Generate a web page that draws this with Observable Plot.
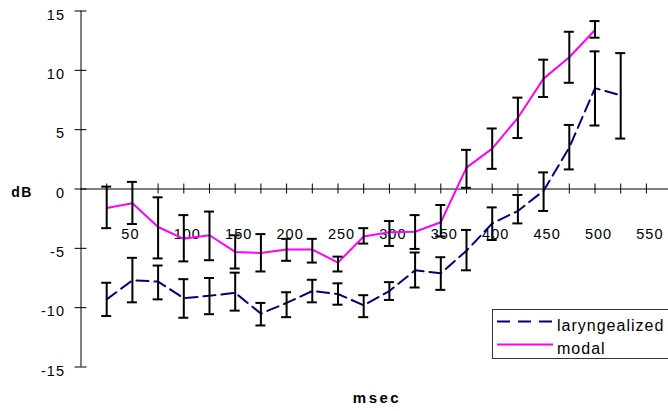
<!DOCTYPE html>
<html><head><meta charset="utf-8">
<script src="https://cdn.jsdelivr.net/npm/d3@7"></script>
<script src="https://cdn.jsdelivr.net/npm/@observablehq/plot@0.6"></script>
<style>
html,body{margin:0;padding:0;background:#fff;overflow:hidden}
#wrap{position:relative;width:668px;height:411px;overflow:hidden;background:#fff}
#overlay{position:absolute;left:0;top:0;pointer-events:none}
</style></head><body><div id="wrap"></div>
<script>
// ---- data ----
const msecModal = [25,50,75,100,125,150,175,200,225,250,275,300,325,350,375,400,425,450,475,500];
const modal   = [-1.6,-1.2,-3.2,-4.2,-3.9,-5.3,-5.4,-5.1,-5.1,-6.2,-4.0,-3.65,-3.6,-2.8,1.8,3.4,6.0,9.3,11.1,13.4];
const modalHi = [0.2,0.6,-0.7,-2.2,-1.9,-3.9,-3.8,-4.2,-4.2,-5.7,-3.3,-2.7,-2.2,-1.35,3.3,5.1,7.7,10.9,13.25,14.15];
const modalLo = [-3.3,-2.95,-5.85,-6.1,-6.0,-6.7,-6.95,-6.05,-6.2,-6.95,-4.6,-4.8,-5.05,-4.0,0.1,1.7,4.3,7.75,8.95,12.75];

const msecLaryng = [25,50,75,100,125,150,175,200,225,250,275,300,325,350,375,400,425,450,475,500,525];
const laryng   = [-9.3,-7.7,-7.8,-9.2,-9.0,-8.75,-10.5,-9.6,-8.6,-8.85,-9.8,-8.6,-6.85,-7.1,-5.2,-2.9,-1.85,-0.15,3.5,8.5,7.9];
const laryngHi = [-7.9,-5.8,-6.45,-7.6,-7.5,-7.05,-9.6,-8.7,-7.65,-7.95,-8.95,-7.85,-5.35,-5.75,-3.45,-1.55,-0.5,1.4,5.4,11.6,11.45];
const laryngLo = [-10.7,-9.55,-9.3,-10.85,-10.55,-10.25,-11.5,-10.8,-9.55,-9.75,-10.8,-9.35,-8.3,-8.5,-6.85,-4.3,-2.9,-1.85,1.65,5.35,4.25];

const yTicks = [-15,-10,-5,0,5,10,15];
const yTickLabels = ["-15","-10","-5","0","5","10","15"];
const xTicks = [25,50,75,100,125,150,175,200,225,250,275,300,325,350,375,400,425,450,475,500,525,550];
const xLabelValues = [50,100,150,200,250,300,350,400,450,500,550];
const xLabels = ["50","100","150","200","250","300","350","400","450","500","550"];
const seriesNames = ["laryngealized","modal"];

// ---- tables ----
const modalRows = msecModal.map((m,i)=>({msec:m, value:modal[i], lo:modalLo[i], hi:modalHi[i]}));
const laryngRows = msecLaryng.map((m,i)=>({msec:m, value:laryng[i], lo:laryngLo[i], hi:laryngHi[i]}));
const errRows = modalRows.concat(laryngRows);
const yTickRows = yTicks.map((v,i)=>({v, label:yTickLabels[i]}));
const xLabelRows = xLabelValues.map((v,i)=>({v, label:xLabels[i]}));

const chart = Plot.plot({
  width: 668, height: 411, margin: 0,
  x: {domain:[0,575], range:[80.5,671.6], axis:null},
  y: {domain:[-15,15], range:[366.5,10.5], axis:null},
  style: {fontFamily:"'Liberation Sans', Arial, sans-serif", fontSize:"14.5px", background:"#fff", color:"#000", letterSpacing:"1px"},
  marks: [
    // axes lines
    Plot.ruleX([0], {y1:-15, y2:15, stroke:"#000", strokeWidth:1}),
    Plot.ruleY([0], {x1:0, x2:575, stroke:"#000", strokeWidth:1}),
    // y ticks (crossing)
    Plot.ruleY(yTicks, {y:d=>d, x1:()=>0, x2:()=>0, insetLeft:-6, insetRight:-6, stroke:"#000", strokeWidth:1}),
    // x ticks (crossing)
    Plot.ruleX(xTicks, {x:d=>d, y1:()=>0, y2:()=>0, insetTop:-5, insetBottom:-5, stroke:"#000", strokeWidth:1}),
    // y tick labels
    Plot.text(yTickRows, {x:()=>0, y:"v", text:"label", textAnchor:"end", dx:-16, dy:4, fill:"#000"}),
    // x tick labels
    Plot.text(xLabelRows.filter(d=>d.label.length<3), {x:"v", y:()=>0, text:"label", dx:-2, dy:45.5, fill:"#000"}),
    Plot.text(xLabelRows.filter(d=>d.label.length>=3), {x:"v", y:()=>0, text:"label", dx:3.5, dy:45.5, fill:"#000"}),
    // series lines
    Plot.line(laryngRows, {x:"msec", y:"value", stroke:"#000080", strokeWidth:2, strokeDasharray:"12,6"}),
    Plot.line(modalRows, {x:"msec", y:"value", stroke:"#ff00ff", strokeWidth:2}),
    // error bars
    Plot.ruleX(errRows, {x:"msec", y1:"lo", y2:"hi", stroke:"#000", strokeWidth:2}),
    Plot.ruleY(errRows, {y:"hi", x1:"msec", x2:"msec", insetLeft:-5, insetRight:-5, stroke:"#000", strokeWidth:2}),
    Plot.ruleY(errRows, {y:"lo", x1:"msec", x2:"msec", insetLeft:-5, insetRight:-5, stroke:"#000", strokeWidth:2})
  ]
});
const wrap = document.getElementById("wrap");
wrap.appendChild(chart);

// ---- titles and legend overlay ----
const ns = "http://www.w3.org/2000/svg";
const ov = document.createElementNS(ns, "svg");
ov.setAttribute("id","overlay"); ov.setAttribute("width","668"); ov.setAttribute("height","411");
ov.style.fontFamily = "'Liberation Sans', Arial, sans-serif";
function el(tag, attrs, text){ const e = document.createElementNS(ns, tag); for (const k in attrs) e.setAttribute(k, attrs[k]); if (text!=null) e.textContent = text; ov.appendChild(e); return e; }
el("text", {x:22, y:196.5, "text-anchor":"middle", "font-weight":"bold", "font-size":"14px", "letter-spacing":"1.5px"}, "dB");
el("text", {x:377, y:403, "text-anchor":"middle", "font-weight":"bold", "font-size":"15px", "letter-spacing":"2.5px"}, "msec");
el("rect", {x:492.5, y:309.5, width:200, height:49, fill:"#fff", stroke:"#333", "stroke-width":1});
el("line", {x1:497, x2:552, y1:321.5, y2:321.5, stroke:"#000080", "stroke-width":2, "stroke-dasharray":"13,8"});
el("line", {x1:497, x2:553, y1:344.5, y2:344.5, stroke:"#ff00ff", "stroke-width":2});
el("text", {x:557, y:330.5, "font-size":"16px", "letter-spacing":"1px"}, seriesNames[0]);
el("text", {x:557, y:354, "font-size":"16px", "letter-spacing":"1px"}, seriesNames[1]);
wrap.appendChild(ov);
</script>
</body></html>
